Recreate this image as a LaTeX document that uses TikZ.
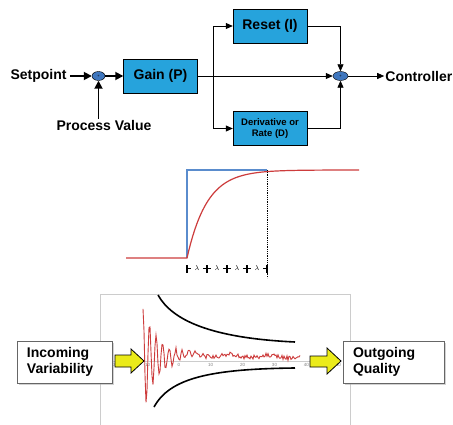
\documentclass[tikz,border=0pt]{standalone}
\usepackage{fontspec}
\setmainfont{Liberation Sans}
\usetikzlibrary{arrows.meta,positioning,shapes.geometric,shadows}
\definecolor{blockblue}{RGB}{38,163,220}
\definecolor{sumblue}{RGB}{62,118,190}
\definecolor{stepblue}{RGB}{90,140,205}
\definecolor{respred}{RGB}{205,60,60}
\definecolor{fatyellow}{RGB}{235,235,25}
\tikzstyle{block}=[
	rectangle,
	draw=black,
	fill=blockblue,
	minimum width=74pt,
	minimum height=34pt,
	inner sep=2pt,
	font=\bfseries\fontsize{14}{16}\selectfont
]
\tikzstyle{sum}=[
	ellipse,
	draw=black,
	fill=sumblue,
	minimum width=13pt,
	minimum height=9pt,
	inner sep=0pt,
	font=\fontsize{4}{4}\selectfont
]
\tikzstyle{sigtext}=[
	inner sep=1pt,
	font=\bfseries\fontsize{14}{16}\selectfont
]
\tikzstyle{signal}=[
	-{Triangle[length=8pt,width=8pt]},
	line width=1.7pt
]
\tikzstyle{flow}=[
	-{Triangle[length=7pt,width=6pt]},
	line width=0.8pt
]
\tikzstyle{qualitybox}=[
	rectangle,
	draw=gray!80!black,
	fill=white,
	drop shadow={shadow xshift=2pt, shadow yshift=-2pt, fill=gray!70},
	minimum height=42pt,
	inner xsep=10pt,
	align=left,
	font=\bfseries\fontsize{14}{16}\selectfont
]

\begin{document}
\begin{tikzpicture}[x=1pt,y=-1pt]
\useasboundingbox[fill=white] (0,0) rectangle (453,425);

% PID loop
\node [sum] (sum1) at (98.5,76) {+};
\node [block] (gain) at (160.5,76) {Gain (P)};
\node [block] (reset) at (270,26) {Reset (I)};
\node [block, align=center, font=\bfseries\fontsize{9.5}{11}\selectfont] (deriv) at (270,128.5) {Derivative or\\Rate (D)};
\node [sum, minimum width=15pt] (sum2) at (340.5,76) {+};
\node [sigtext] (setpoint) [left=24pt of sum1] {Setpoint};
\node [sigtext] (procval) [below=38pt of sum1, xshift=5.5pt] {Process Value};
\node [sigtext] (controller) [right=36pt of sum2] {Controller};
\coordinate (split) at (213,76);

\draw [signal, shorten <=2pt] (setpoint) -- (sum1);
\draw [signal] (sum1) -- (gain);
\draw [signal] (procval.north -| sum1) -- (sum1);
\draw [flow] (gain) -- (sum2);
\draw [flow] (split) |- (reset);
\draw [flow] (split) |- (deriv);
\draw [flow] (reset) -| (sum2);
\draw [flow] (deriv) -| (sum2);
\draw [flow] (sum2) -- (controller);

% step response
\draw [stepblue, line width=1.1pt] (187,258) -- (187,170) -- (267,170);
\draw [respred, line width=1.2pt] (126,258) -- (187,258)
	-- plot [domain=187:359, samples=90] (\x,{258-88*(1-exp(-(\x-187)/20))});
\draw [densely dotted, line width=0.8pt] (267,170) -- (267,278);
\foreach \tx in {187,207,...,267}
	\draw [line width=1.3pt] (\tx,265) -- (\tx,273);
\foreach \tx in {187,207,227,247}
	\draw [line width=0.7pt] (\tx,268) -- ++(4,0);
\foreach \tx in {207,227,247,267}
	\draw [line width=0.7pt] (\tx,268) -- ++(-4,0);
\foreach \lx in {197,217,237,257}
	\node [inner sep=0pt, font=\fontsize{7}{7}\selectfont] (lam-\lx) at (\lx,268) {$\lambda$};

% variability chart
\draw [gray!40, line width=0.8pt] (100,425) -- (100,294) -- (350,294) -- (350,425);
\draw [gray!40, line width=0.4pt] (113,361) -- (312,361);
\foreach \v [count=\i from 0] in {-20,-10,0,10,20,30,40,50}
	\node [inner sep=0pt, text=gray, font=\fontsize{4.5}{5}\selectfont] (ax-\i) at ({115+31.9*\i},365) {\v};
\pgfmathsetseed{7}
\draw [respred, line width=0.9pt] plot [samples at={143,144,...,300}]
	(\x,{361-7*(1-exp(-(\x-143)/15))+3*(\x-143)/157-52*exp(-(\x-143)/16)*cos(55*(\x-143))+1.5*sin(9*\x)+2.2*rand});
\draw [line width=1.6pt] (158,295) .. controls (172,320) and (210,338) .. (295,342);
\draw [line width=1.6pt] (154,407) .. controls (170,378) and (210,369) .. (295,368);

\node [qualitybox, text width=75pt] (incoming) at (64.5,362) {Incoming\\Variability};
\node [qualitybox, text width=81pt] (outgoing) at (393.5,362) {Outgoing\\Quality};
\filldraw [fill=fatyellow, line width=0.8pt] (115,355) -- (131,355) -- (131,349) -- (144,361)
	-- (131,373) -- (131,367) -- (115,367) -- cycle;
\filldraw [fill=fatyellow, line width=0.8pt] (310,356) -- (327,356) -- (327,348) -- (341,361)
	-- (327,374) -- (327,367) -- (310,367) -- cycle;
\end{tikzpicture}
\end{document}
